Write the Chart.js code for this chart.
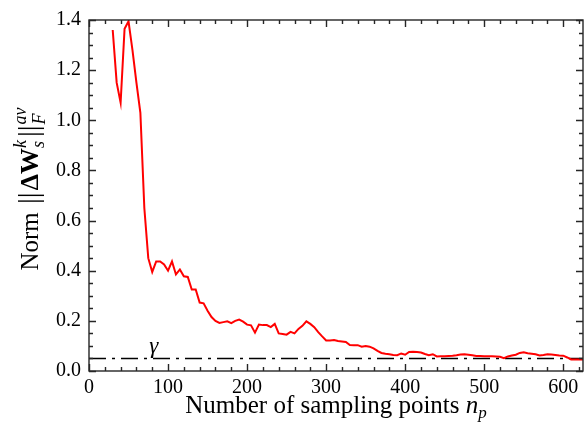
<!DOCTYPE html>
<html>
<head>
<meta charset="utf-8">
<script src="https://cdn.jsdelivr.net/npm/chart.js@4.4.1/dist/chart.umd.min.js"></script>
<style>
  html, body { margin: 0; padding: 0; background: #fff; }
  #wrap { width: 585px; height: 435px; }
</style>
</head>
<body>
<div id="wrap"><canvas id="c" width="585" height="435"></canvas></div>
<script>
// sampling points n_p and averaged norm values
const samplingPoints = [
  30, 35, 40, 45, 50, 55, 60, 65, 70, 75, 80, 85, 90, 95, 100,
  105, 110, 115, 120, 125, 130, 135, 140, 145, 150, 155, 160, 165, 170, 175,
  180, 185, 190, 195, 200, 205, 210, 215, 220, 225, 230, 235, 240, 245, 250,
  255, 260, 265, 270, 275, 280, 285, 290, 295, 300, 305, 310, 315, 320, 325,
  330, 335, 340, 345, 350, 355, 360, 365, 370, 375, 380, 385, 390, 395, 400,
  405, 410, 415, 420, 425, 430, 435, 440, 445, 450, 455, 460, 465, 470, 475,
  480, 485, 490, 495, 500, 505, 510, 515, 520, 525, 530, 535, 540, 545, 550,
  555, 560, 565, 570, 575, 580, 585, 590, 595, 600, 605, 610, 615, 620, 625
];
const normValues = [
  1.36, 1.15, 1.07, 1.365, 1.395, 1.28, 1.15, 1.03, 0.65, 0.45, 0.395, 0.437, 0.437, 0.425, 0.400,
  0.437, 0.385, 0.405, 0.378, 0.375, 0.325, 0.325, 0.273, 0.270, 0.240, 0.215, 0.200, 0.192, 0.195, 0.198,
  0.191, 0.200, 0.205, 0.197, 0.185, 0.182, 0.153, 0.185, 0.183, 0.183, 0.175, 0.188, 0.150, 0.148, 0.145,
  0.156, 0.150, 0.168, 0.180, 0.198, 0.188, 0.175, 0.155, 0.138, 0.122, 0.122, 0.124, 0.120, 0.118, 0.116,
  0.104, 0.103, 0.103, 0.097, 0.100, 0.097, 0.090, 0.080, 0.072, 0.069, 0.067, 0.064, 0.063, 0.070, 0.065,
  0.076, 0.077, 0.076, 0.074, 0.068, 0.063, 0.067, 0.058, 0.059, 0.059, 0.060, 0.061, 0.063, 0.066, 0.067,
  0.065, 0.063, 0.060, 0.060, 0.059, 0.059, 0.059, 0.058, 0.057, 0.051, 0.058, 0.062, 0.065, 0.072, 0.075,
  0.071, 0.069, 0.067, 0.062, 0.064, 0.067, 0.066, 0.064, 0.062, 0.061, 0.054, 0.046, 0.046, 0.046, 0.046
];
const gammaValue = 0.05;
const gammaLabelAt = [82, 0.07];

const xMin = 0, xMax = 625, xStep = 100, xMinorStep = 20;
const yMin = 0, yMax = 1.4, yStep = 0.2, yMinorStep = 0.05;

const SERIF = "'Liberation Serif', 'DejaVu Serif', serif";
const AXIS_COLOR = "#262626";

// box round the plot, with inward major and minor ticks on all four sides
const frameTicksPlugin = {
  id: "frameTicks",
  afterDatasetsDraw(chart) {
    const { ctx, chartArea: a, scales } = chart;
    const xs = scales.x, ys = scales.y;
    ctx.save();
    ctx.strokeStyle = AXIS_COLOR;
    ctx.lineWidth = 1.4;
    ctx.strokeRect(a.left, a.top, a.right - a.left, a.bottom - a.top);

    ctx.beginPath();
    for (let v = xMin; v <= xMax + 1e-9; v += xMinorStep) {
      const px = Math.round(xs.getPixelForValue(v)) + 0.5;
      const len = Math.abs(v % xStep) < 1e-9 ? 7 : 4;
      ctx.moveTo(px, a.bottom); ctx.lineTo(px, a.bottom - len);
      ctx.moveTo(px, a.top); ctx.lineTo(px, a.top + len);
    }
    for (let i = 0; i <= Math.round((yMax - yMin) / yMinorStep); i++) {
      const v = yMin + i * yMinorStep;
      const py = Math.round(ys.getPixelForValue(v)) + 0.5;
      const len = i % 4 === 0 ? 7 : 4;
      ctx.moveTo(a.left, py); ctx.lineTo(a.left + len, py);
      ctx.moveTo(a.right, py); ctx.lineTo(a.right - len, py);
    }
    ctx.stroke();

    // gamma label
    ctx.fillStyle = "#000";
    ctx.font = "italic 23px " + SERIF;
    ctx.textAlign = "center";
    ctx.textBaseline = "alphabetic";
    ctx.fillText("\u03b3", xs.getPixelForValue(gammaLabelAt[0]), ys.getPixelForValue(gammaLabelAt[1]));
    ctx.restore();
  }
};

// draws a run of text pieces; pieces with stack:true share their x with the next one
function drawRun(ctx, pieces, x0, y0, align) {
  let total = 0;
  const widths = pieces.map((p) => { ctx.font = p.font; return ctx.measureText(p.t).width + (p.gap || 0); });
  for (let i = 0; i < pieces.length; i++) {
    if (pieces[i].stack) { total += Math.max(widths[i], widths[i + 1]); i++; }
    else total += widths[i];
  }
  let x = align === "center" ? x0 - total / 2 : x0;
  for (let i = 0; i < pieces.length; i++) {
    const p = pieces[i];
    ctx.font = p.font;
    ctx.fillText(p.t, x, y0 + (p.dy || 0));
    if (p.stack) {
      const q = pieces[i + 1];
      ctx.font = q.font;
      ctx.fillText(q.t, x, y0 + (q.dy || 0));
      x += Math.max(widths[i], widths[i + 1]);
      i++;
    } else {
      x += widths[i];
    }
  }
}

const axisTitlesPlugin = {
  id: "axisTitles",
  afterDraw(chart) {
    const { ctx, chartArea: a } = chart;
    ctx.save();
    ctx.fillStyle = "#000";
    ctx.textAlign = "left";
    ctx.textBaseline = "alphabetic";

    const cx = (a.left + a.right) / 2;
    drawRun(ctx, [
      { t: "Number of sampling points ", font: "25px " + SERIF },
      { t: "n", font: "italic 25px " + SERIF },
      { t: "p", font: "italic 17px " + SERIF, dy: 5 }
    ], cx, 413, "center");

    ctx.translate(38, 189);
    ctx.rotate(-Math.PI / 2);
    drawRun(ctx, [
      { t: "Norm ", font: "25px " + SERIF, gap: 2 },
      { t: "||", font: "29px " + SERIF, gap: 2 },
      { t: "\u0394W", font: "bold 26px " + SERIF },
      { t: "k", font: "italic 18px " + SERIF, dy: -12, stack: true, gap: 3 },
      { t: "s", font: "italic 18px " + SERIF, dy: 6, gap: 3 },
      { t: "||", font: "29px " + SERIF, gap: 1 },
      { t: "av", font: "italic 18px " + SERIF, dy: -12, stack: true },
      { t: "F", font: "italic 18px " + SERIF, dy: 7 }
    ], 0, 0, "center");
    ctx.restore();
  }
};

const normData = samplingPoints.map((x, i) => ({ x, y: normValues[i] }));
const gammaData = [{ x: xMin, y: gammaValue }, { x: xMax, y: gammaValue }];

new Chart(document.getElementById("c"), {
  type: "line",
  data: {
    datasets: [
      {
        label: "norm",
        data: normData,
        borderColor: "#ff0000",
        borderWidth: 2,
        pointRadius: 0,
        tension: 0,
        fill: false
      },
      {
        label: "gamma",
        data: gammaData,
        borderColor: "#000",
        borderWidth: 1.6,
        borderDash: [17, 6, 3, 6],
        pointRadius: 0,
        fill: false
      }
    ]
  },
  options: {
    responsive: false,
    animation: false,
    devicePixelRatio: 1,
    layout: { padding: { top: 17, right: 2, left: 0, bottom: 0 } },
    plugins: {
      legend: { display: false },
      tooltip: { enabled: false }
    },
    scales: {
      x: {
        type: "linear",
        min: xMin,
        max: xMax,
        grid: { display: false, drawTicks: false },
        border: { display: false },
        ticks: {
          stepSize: xStep,
          includeBounds: false,
          maxRotation: 0,
          padding: 5,
          color: "#000",
          font: { family: SERIF, size: 20 }
        },
        afterFit(scale) { scale.height = 64; }
      },
      y: {
        min: yMin,
        max: yMax,
        grid: { display: false, drawTicks: false },
        border: { display: false },
        ticks: {
          stepSize: yStep,
          padding: 8,
          color: "#000",
          font: { family: SERIF, size: 20 },
          callback: (v) => Number(v).toFixed(1)
        },
        afterFit(scale) { scale.width = 89; }
      }
    }
  },
  plugins: [frameTicksPlugin, axisTitlesPlugin]
});
</script>
</body>
</html>
